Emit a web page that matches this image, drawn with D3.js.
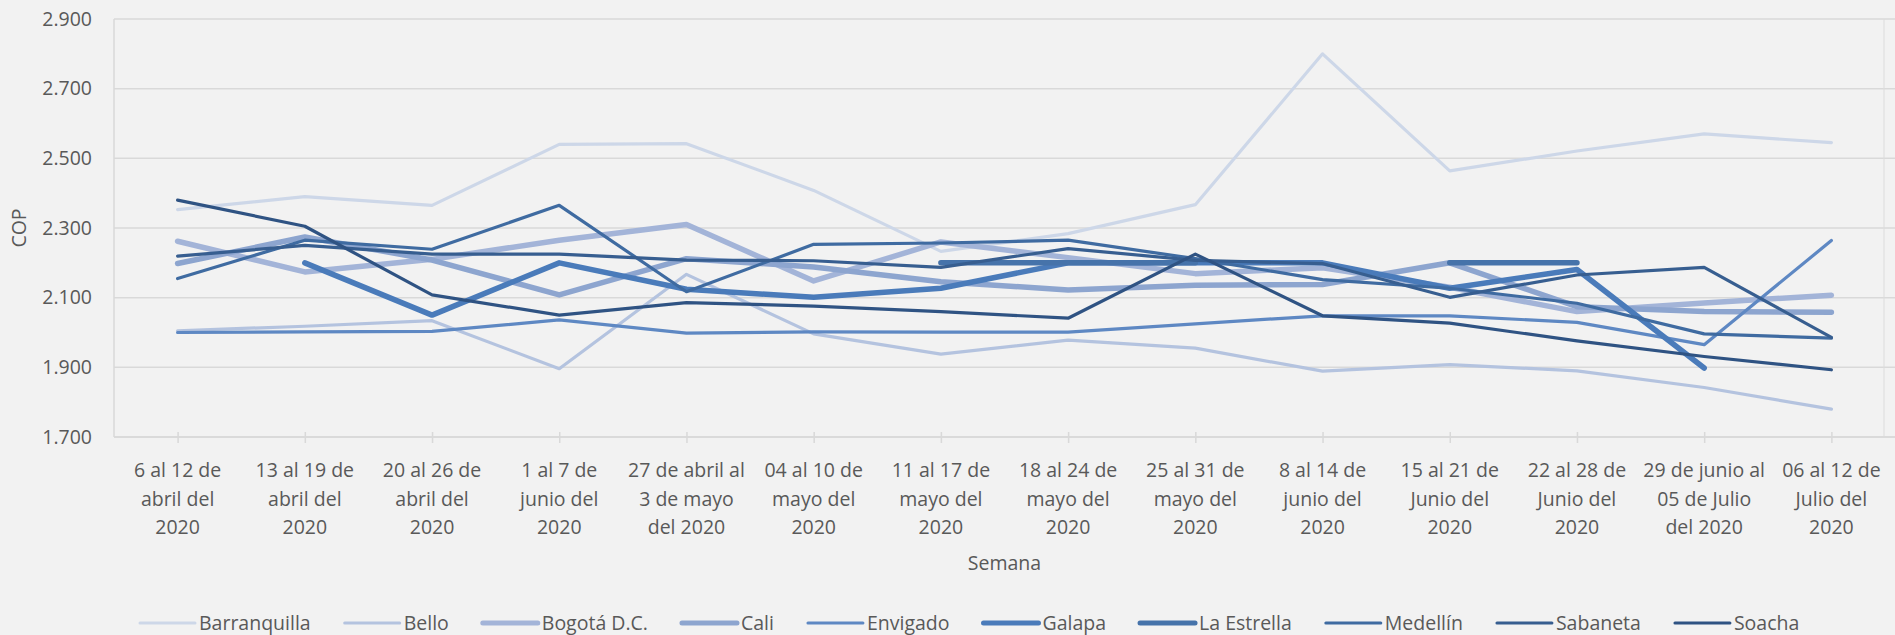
<!DOCTYPE html>
<html>
<head>
<meta charset="utf-8">
<script src="https://cdn.jsdelivr.net/npm/d3@7"></script>
<style>
  body { margin: 0; background: #f2f2f2; }
  text { font-family: "Open Sans", sans-serif; fill: #595959; }
</style>
</head>
<body>
<div id="chart"></div>
<script>
// categories (weeks)
var semanas = [
  ["6 al 12 de", "abril del", "2020"],
  ["13 al 19 de", "abril del", "2020"],
  ["20 al 26 de", "abril del", "2020"],
  ["1 al 7 de", "junio del", "2020"],
  ["27 de abril al", "3 de mayo", "del 2020"],
  ["04 al 10 de", "mayo del", "2020"],
  ["11 al 17 de", "mayo del", "2020"],
  ["18 al 24 de", "mayo del", "2020"],
  ["25 al 31 de", "mayo del", "2020"],
  ["8 al 14 de", "junio del", "2020"],
  ["15 al 21 de", "Junio del", "2020"],
  ["22 al 28 de", "Junio del", "2020"],
  ["29 de junio al", "05 de Julio", "del 2020"],
  ["06 al 12 de", "Julio del", "2020"]
];

var ciudades = ["Barranquilla", "Bello", "Bogotá D.C.", "Cali", "Envigado", "Galapa", "La Estrella", "Medellín", "Sabaneta", "Soacha"];

// COP values per city
var barranquilla = [2353, 2390, 2365, 2540, 2542, 2408, 2233, 2284, 2367, 2800, 2464, 2521, 2570, 2545];
var bello        = [2005, 2018, 2034, 1896, 2167, 1996, 1938, 1978, 1955, 1889, 1908, 1890, 1842, 1780];
var bogota       = [2262, 2174, 2210, 2265, 2310, 2148, 2260, 2215, 2169, 2186, 2130, 2060, 2085, 2107];
var cali         = [2198, 2274, 2208, 2108, 2212, 2188, 2146, 2122, 2136, 2138, 2200, 2074, 2060, 2058];
var envigado     = [2000, 2002, 2003, 2036, 1998, 2002, 2001, 2001, 2025, 2048, 2048, 2029, 1965, 2264];
var galapa       = [null, 2200, 2050, 2200, 2124, 2101, 2127, 2200, 2200, 2200, 2127, 2181, 1898, null];
var laEstrella   = [null, null, null, null, null, null, 2200, 2200, 2200, null, 2200, 2200, null, null];
var medellin     = [2155, 2265, 2239, 2365, 2117, 2253, 2257, 2265, 2212, 2152, 2127, 2084, 1996, 1984];
var sabaneta     = [2219, 2250, 2225, 2225, 2208, 2206, 2187, 2241, 2207, 2198, 2101, 2165, 2187, 1986];
var soacha       = [2380, 2305, 2108, 2050, 2086, 2076, 2060, 2041, 2225, 2048, 2027, 1976, 1931, 1893];

var yTicks = [1700, 1900, 2100, 2300, 2500, 2700, 2900];

var series = [barranquilla, bello, bogota, cali, envigado, galapa, laEstrella, medellin, sabaneta, soacha];
var colores = ["#cdd7e8", "#b4c3df", "#a3b4d8", "#8da5cf", "#5e88c3", "#4a7bba", "#4673aa", "#3f6ba1", "#375e90", "#2f5383"];
var grosores = [3.2, 3.2, 5.5, 5.5, 3.2, 5.5, 5.5, 3.2, 3.2, 3.2];

var svgWidth = 1895, svgHeight = 635;
var margin = { top: 19, right: 0, bottom: 198, left: 114 };
var width = svgWidth - margin.left - margin.right;
var height = svgHeight - margin.top - margin.bottom;

var svg = d3.select("#chart").append("svg")
  .attr("width", svgWidth)
  .attr("height", svgHeight)
  .style("display", "block");

svg.append("rect").attr("width", svgWidth).attr("height", svgHeight).attr("fill", "#f2f2f2");

var chartGroup = svg.append("g")
  .attr("transform", `translate(${margin.left}, ${margin.top})`);

var x = d3.scaleBand().domain(d3.range(semanas.length)).range([0, width]).padding(0);
var y = d3.scaleLinear().domain([1700, 2900]).range([height, 0]);
var cx = i => x(i) + x.bandwidth() / 2;

// gridlines
chartGroup.selectAll(".grid").data(yTicks).enter().append("line")
  .attr("x1", 0).attr("x2", width)
  .attr("y1", d => y(d)).attr("y2", d => y(d))
  .attr("stroke", "#d9d9d9").attr("stroke-width", 1.5);

// left axis line and right border
chartGroup.append("line").attr("x1", 0).attr("x2", 0).attr("y1", 0).attr("y2", height)
  .attr("stroke", "#d9d9d9").attr("stroke-width", 1.5);
chartGroup.append("line").attr("x1", width - 11).attr("x2", width - 11).attr("y1", 0).attr("y2", height)
  .attr("stroke", "#dcdcdc").attr("stroke-width", 1);

// y labels
chartGroup.selectAll(".ylab").data(yTicks).enter().append("text")
  .attr("x", -22).attr("y", d => y(d)).attr("dy", "0.35em")
  .attr("text-anchor", "end")
  .style("font-size", "19.5px")
  .text(d => d3.format(",")(d).replace(",", "."));

// bottom axis with ticks at category centres
var bottomAxis = d3.axisBottom(d3.scalePoint().domain(d3.range(semanas.length)).range([cx(0), cx(semanas.length - 1)]))
  .tickSize(6).tickFormat("");
var ax = chartGroup.append("g").attr("transform", `translate(0, ${height})`).call(bottomAxis);
ax.select(".domain").remove();
ax.selectAll(".tick line").attr("stroke", "#d9d9d9").attr("stroke-width", 1.5).attr("y1", -5);
chartGroup.append("line").attr("x1", 0).attr("x2", width).attr("y1", height).attr("y2", height)
  .attr("stroke", "#d9d9d9").attr("stroke-width", 1.5);

// x labels
var xl = chartGroup.selectAll(".xlab").data(semanas).enter().append("text")
  .attr("text-anchor", "middle")
  .style("font-size", "19.5px")
  .attr("transform", (d, i) => `translate(${cx(i)}, ${height + 40})`);
xl.selectAll("tspan").data(d => d).enter().append("tspan")
  .attr("x", 0).attr("y", (d, j) => j * 28.5)
  .text(d => d);

// lines
var line = d3.line()
  .defined(d => d != null)
  .x((d, i) => cx(i))
  .y(d => y(d));

chartGroup.selectAll(".serie").data(series).enter().append("path")
  .attr("d", d => line(d))
  .attr("fill", "none")
  .attr("stroke", (d, i) => colores[i])
  .attr("stroke-width", (d, i) => grosores[i])
  .attr("stroke-linecap", "round")
  .attr("stroke-linejoin", "round");

// axis titles
svg.append("text")
  .attr("transform", `translate(26, ${margin.top + height / 2}) rotate(-90)`)
  .attr("text-anchor", "middle")
  .style("font-size", "19.5px")
  .text("COP");

svg.append("text")
  .attr("x", margin.left + width / 2).attr("y", 570)
  .attr("text-anchor", "middle")
  .style("font-size", "19.5px")
  .text("Semana");

// legend
var legend = svg.append("g");
var lx = 140;
ciudades.forEach(function(c, i) {
  legend.append("line")
    .attr("x1", lx).attr("x2", lx + 55)
    .attr("y1", 623).attr("y2", 623)
    .attr("stroke", colores[i])
    .attr("stroke-width", grosores[i] > 4 ? 5 : 3)
    .attr("stroke-linecap", "round");
  var t = legend.append("text")
    .attr("x", lx + 59).attr("y", 630)
    .style("font-size", "19.5px")
    .text(c);
  lx += 59 + t.node().getComputedTextLength() + 34;
});
</script>
</body>
</html>
